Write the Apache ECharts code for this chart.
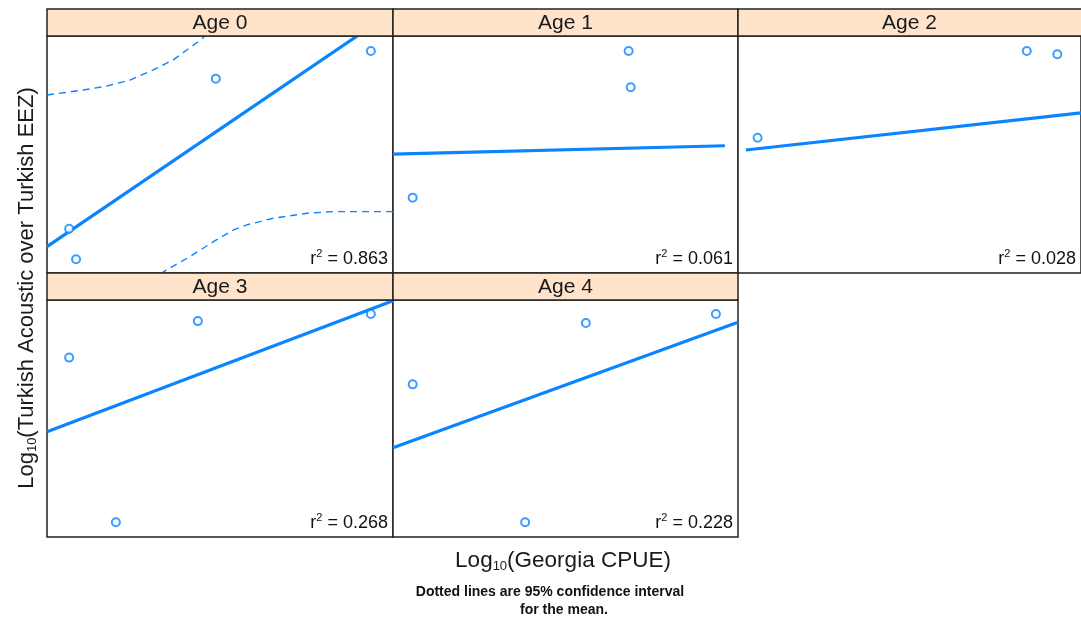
<!DOCTYPE html>
<html>
<head>
<meta charset="utf-8">
<script src="https://cdn.jsdelivr.net/npm/echarts@6/dist/echarts.min.js"></script>
<style>
html,body{margin:0;padding:0;background:#fff;}
#chart{width:1081px;height:619px;}
</style>
</head>
<body>
<div id="chart"></div>
<script>
// ---- data (panel units: x and y scaled 0..10, axis ticks not shown in the original) ----
const panelNames = ['Age 0', 'Age 1', 'Age 2', 'Age 3', 'Age 4'];
const r2Values = ['0.863', '0.061', '0.028', '0.268', '0.228'];

const age0PointsX = [9.36, 4.88, 0.64, 0.84];
const age0PointsY = [9.37, 8.20, 1.87, 0.58];
const age1PointsX = [6.83, 6.89, 0.57];
const age1PointsY = [9.37, 7.84, 3.18];
const age2PointsX = [8.42, 9.31, 0.57];
const age2PointsY = [9.37, 9.23, 5.71];
const age3PointsX = [9.36, 4.36, 0.64, 1.99];
const age3PointsY = [9.41, 9.11, 7.57, 0.62];
const age4PointsX = [9.36, 5.59, 0.57, 3.83];
const age4PointsY = [9.41, 9.03, 6.44, 0.62];

const age0FitX = [0, 10];
const age0FitY = [1.11, 11.03];
const age1FitX = [0, 9.62];
const age1FitY = [5.02, 5.37];
const age2FitX = [0.23, 10];
const age2FitY = [5.19, 6.76];
const age3FitX = [0, 10];
const age3FitY = [4.44, 9.97];
const age4FitX = [0, 10];
const age4FitY = [3.77, 9.06];

// 95% confidence interval for the mean (Age 0 only)
const age0UpperX = [0, 1.05, 1.73, 2.40, 3.07, 3.65, 4.04, 4.47, 4.77];
const age0UpperY = [7.51, 7.72, 7.89, 8.14, 8.57, 8.99, 9.41, 9.86, 10.34];
const age0LowerX = [2.98, 3.46, 4.13, 4.81, 5.38, 5.77, 6.54, 7.51, 8.27, 10];
const age0LowerY = [-0.30, 0.13, 0.69, 1.32, 1.81, 2.03, 2.31, 2.52, 2.59, 2.59];

const pointsX = [age0PointsX, age1PointsX, age2PointsX, age3PointsX, age4PointsX];
const pointsY = [age0PointsY, age1PointsY, age2PointsY, age3PointsY, age4PointsY];
const fitX = [age0FitX, age1FitX, age2FitX, age3FitX, age4FitX];
const fitY = [age0FitY, age1FitY, age2FitY, age3FitY, age4FitY];

// ---- layout ----
const BLUE = '#0a84ff';
const STRIP = '#ffe4cb';
const BORDER = '#222';
const FONT = '"Liberation Sans", Arial, sans-serif';
const layout = [
  {left: 47, top: 36, width: 346, height: 237},
  {left: 393, top: 36, width: 345, height: 237},
  {left: 738, top: 36, width: 346, height: 237},
  {left: 47, top: 300, width: 346, height: 237},
  {left: 393, top: 300, width: 345, height: 237}
];
const stripH = 27;

const zip = (xs, ys) => xs.map((x, i) => [x, ys[i]]);

const grids = [], xAxes = [], yAxes = [], series = [], graphics = [];
layout.forEach((g, i) => {
  grids.push({left: g.left, top: g.top, width: g.width, height: g.height,
    show: true, borderColor: BORDER, borderWidth: 1.5, backgroundColor: '#fff', containLabel: false});
  xAxes.push({type: 'value', gridIndex: i, min: 0, max: 10, show: false});
  yAxes.push({type: 'value', gridIndex: i, min: 0, max: 10, show: false});
  series.push({type: 'line', xAxisIndex: i, yAxisIndex: i, data: zip(fitX[i], fitY[i]),
    showSymbol: false, symbol: 'none', clip: true, silent: true,
    lineStyle: {color: BLUE, width: 3.2}, z: 3});
  series.push({type: 'scatter', xAxisIndex: i, yAxisIndex: i, data: zip(pointsX[i], pointsY[i]),
    symbol: 'emptyCircle', symbolSize: 8, clip: true,
    itemStyle: {color: BLUE, borderColor: BLUE, borderWidth: 1.8}, z: 4});
  // strip
  graphics.push({type: 'rect', shape: {x: g.left, y: g.top - stripH, width: g.width, height: stripH},
    style: {fill: STRIP, stroke: BORDER, lineWidth: 1.5}, z: 10});
  graphics.push({type: 'text', x: g.left + (i === 2 ? 343 : g.width) / 2, y: g.top - stripH / 2 + 1,
    style: {text: panelNames[i], font: '21px ' + FONT, fill: '#1a1a1a',
      align: 'center', verticalAlign: 'middle'}, z: 11});
  // r^2 label
  const rightEdge = (i === 2 ? 1076 : g.left + g.width - 5);
  graphics.push({type: 'text', x: rightEdge, y: g.top + g.height - 14,
    style: {text: '{a|r}{s|2}{a| = ' + r2Values[i] + '}', align: 'right', verticalAlign: 'middle',
      rich: {
        a: {fontSize: 18, fontFamily: FONT, fill: '#111', verticalAlign: 'middle'},
        s: {fontSize: 11, fontFamily: FONT, fill: '#111', padding: [0, 0, 10, 0], verticalAlign: 'middle'}
      }}, z: 11});
});

series.push({type: 'line', xAxisIndex: 0, yAxisIndex: 0, data: zip(age0UpperX, age0UpperY),
  showSymbol: false, symbol: 'none', clip: true, silent: true,
  lineStyle: {color: BLUE, width: 1.4, type: [7, 5]}, z: 3});
series.push({type: 'line', xAxisIndex: 0, yAxisIndex: 0, data: zip(age0LowerX, age0LowerY),
  showSymbol: false, symbol: 'none', clip: true, silent: true,
  lineStyle: {color: BLUE, width: 1.4, type: [7, 5]}, z: 3});

// axis titles
graphics.push({type: 'text', x: 27, y: 288, rotation: Math.PI / 2,
  style: {text: '{a|Log}{s|10}{a|(Turkish Acoustic over Turkish EEZ)}', align: 'center', verticalAlign: 'middle',
    rich: {
      a: {fontSize: 22, fontFamily: FONT, fill: '#1a1a1a'},
      s: {fontSize: 13, fontFamily: FONT, fill: '#1a1a1a', padding: [11, 0, 0, 0]}
    }}});
graphics.push({type: 'text', x: 563, y: 561,
  style: {text: '{a|Log}{s|10}{a|(Georgia CPUE)}', align: 'center', verticalAlign: 'middle',
    rich: {
      a: {fontSize: 22.5, fontFamily: FONT, fill: '#1a1a1a'},
      s: {fontSize: 13, fontFamily: FONT, fill: '#1a1a1a', padding: [11, 0, 0, 0]}
    }}});
graphics.push({type: 'text', x: 550, y: 592,
  style: {text: 'Dotted lines are 95% confidence interval', align: 'center', verticalAlign: 'middle',
    font: 'bold 14px ' + FONT, fill: '#111'}});
graphics.push({type: 'text', x: 564, y: 610,
  style: {text: 'for the mean.', align: 'center', verticalAlign: 'middle',
    font: 'bold 14px ' + FONT, fill: '#111'}});

const chart = echarts.init(document.getElementById('chart'), null, {renderer: 'canvas'});
chart.setOption({
  animation: false,
  backgroundColor: '#fff',
  grid: grids,
  xAxis: xAxes,
  yAxis: yAxes,
  series: series,
  graphic: graphics
});
</script>
</body>
</html>
